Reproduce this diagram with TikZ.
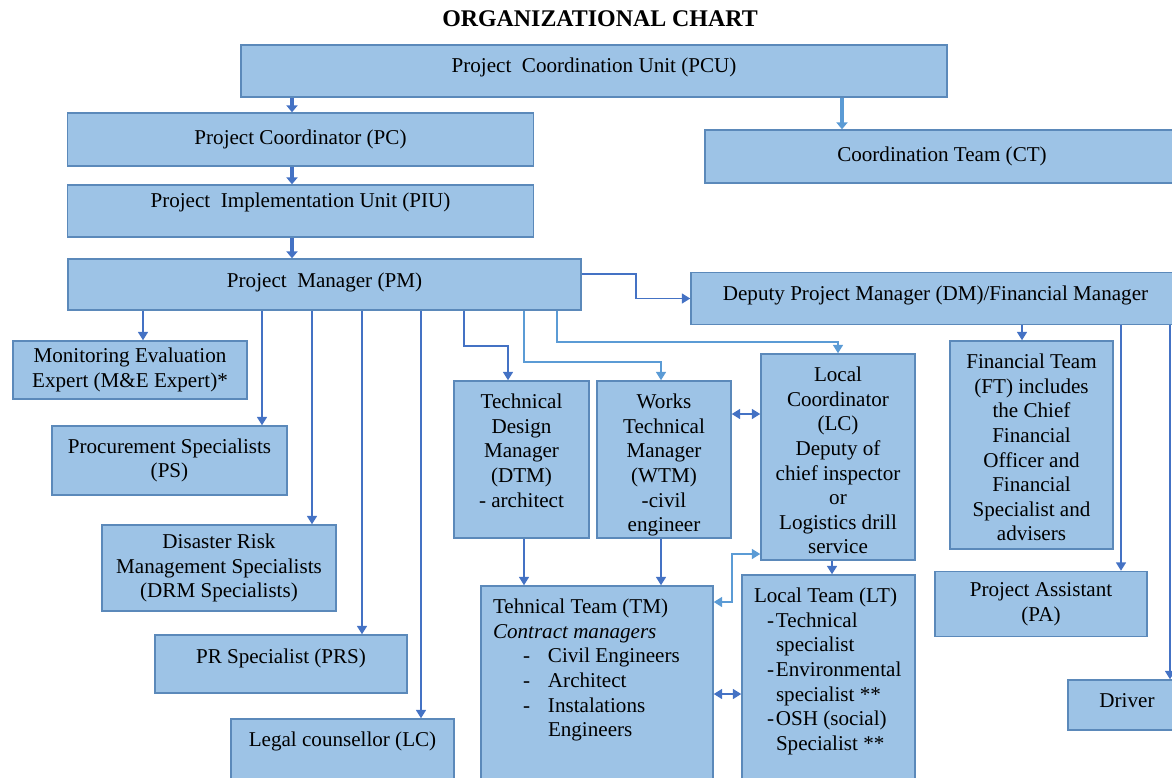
\documentclass[tikz,border=0pt]{standalone}
\usepackage{fontspec}
\setmainfont{Liberation Serif}
\usetikzlibrary{arrows.meta}

\newlength\pxu
\setlength\pxu{0.025cm}
\definecolor{boxfill}{HTML}{9DC3E6}
\definecolor{boxline}{HTML}{5B89BA}
\definecolor{arrdark}{HTML}{4472C4}
\definecolor{arrlight}{HTML}{5B9BD5}
\newcommand\toptext[3]{\parbox[c][#1\pxu][t]{#2\pxu}{\vspace*{13\pxu}\centering #3}}
\newcommand\topleft[3]{\parbox[c][#1\pxu][t]{#2\pxu}{\vspace*{13\pxu}\raggedright\leftskip=12\pxu #3}}

\tikzset{
  unit/.style={draw=boxline, fill=boxfill, line width=1pt, inner sep=0pt, align=center},
  sz/.style 2 args={minimum width=#1\pxu, minimum height=#2\pxu},
  lift/.style={text depth=#1\pxu},
  conn/.style={draw=arrdark, line width=1.4pt, -{Triangle[width=7pt,length=6pt]}},
  lconn/.style={conn, draw=arrlight},
  dbl/.style={draw=arrdark, line width=1.4pt, {Triangle[width=7pt,length=6pt]}-{Triangle[width=7pt,length=6pt]}},
  ldbl/.style={dbl, draw=arrlight},
  bigconn/.style={draw=arrdark, line width=2.8pt, -{Triangle[width=8pt,length=5pt]}}
}

\begin{document}
\begin{tikzpicture}[x=0.025cm, y=-0.025cm, font=\fontsize{15}{17.5}\selectfont]
\useasboundingbox (0,0) rectangle (1172,777);

\node (title) at (600,19) {\fontsize{17}{20}\selectfont\bfseries ORGANIZATIONAL CHART};

\node[unit, sz={706}{52}, lift=11] (pcu) at (594,71) {Project~ Coordination Unit (PCU)};
\node[unit, sz={466}{53}] (pc) at (300.5,139.5) {Project Coordinator (PC)};
\node[unit, sz={474}{53}] (ct) at (942,156.5) {Coordination Team (CT)};
\node[unit, sz={466}{52}, lift=21] (piu) at (300.5,211) {Project~ Implementation Unit (PIU)};
\node[unit, sz={513}{51}, lift=8] (pm) at (324.5,284.5) {Project~ Manager (PM)};
\node[unit, sz={489}{52}, lift=10] (dm) at (935.5,298.5) {Deputy Project Manager (DM)/Financial Manager};

\node[unit, sz={234}{58}] (me) at (130,370) {Monitoring Evaluation\\Expert (M\&E Expert)*};
\node[unit, sz={235}{69}] (ps) at (169.5,460.5) {Procurement Specialists\\(PS)};
\node[unit, sz={234}{86}] (drm) at (219,568) {Disaster Risk\\Management Specialists\\(DRM Specialists)};
\node[unit, sz={252}{58}, lift=15] (prs) at (281,664) {PR Specialist (PRS)};
\node[unit, sz={223}{82}] (legal) at (342.5,760) {\toptext{82}{223}{Legal counsellor (LC)}};

\node[unit, sz={135}{157}] (dtm) at (521.5,459.5) {\toptext{157}{135}{Technical\\Design\\Manager\\(DTM)\\- architect}};
\node[unit, sz={134}{157}] (wtm) at (664,459.5) {\toptext{157}{134}{Works\\Technical\\Manager\\(WTM)\\-civil\\engineer}};
\node[unit, sz={154}{206}] (lc) at (838,457) {\toptext{206}{154}{Local\\Coordinator\\(LC)\\Deputy of\\chief inspector\\or\\Logistics drill\\service}};
\node[unit, sz={163}{208}] (ft) at (1031.5,445) {\toptext{208}{163}{Financial Team\\(FT) includes\\the Chief\\Financial\\Officer and\\Financial\\Specialist and\\advisers}};

\node[unit, sz={232}{204}] (tm) at (597,688) {\topleft{204}{232}{Tehnical Team (TM)\\
  \textit{Contract managers}\\
  \hspace*{30\pxu}\makebox[25\pxu][l]{-}Civil Engineers\\
  \hspace*{30\pxu}\makebox[25\pxu][l]{-}Architect\\
  \hspace*{30\pxu}\makebox[25\pxu][l]{-}Instalations\\
  \hspace*{55\pxu}Engineers}};
\node[unit, sz={173}{215}] (lt) at (828.5,682.5) {\topleft{215}{173}{Local Team (LT)\\
  \hspace*{13\pxu}\makebox[9\pxu][l]{-}Technical\\
  \hspace*{22\pxu}specialist\\
  \hspace*{13\pxu}\makebox[9\pxu][l]{-}Environmental\\
  \hspace*{22\pxu}specialist **\\
  \hspace*{13\pxu}\makebox[9\pxu][l]{-}OSH (social)\\
  \hspace*{22\pxu}Specialist **}};
\node[unit, sz={212}{65}] (pa) at (1041,604) {Project Assistant\\(PA)};
\node[unit, sz={118}{50}, lift=9] (drv) at (1127,705) {Driver};

\coordinate (xpc) at (292,0);
\coordinate (xct) at (842,0);
\coordinate (xme) at (143,0);
\coordinate (xps) at (262,0);
\coordinate (xdrm) at (312,0);
\coordinate (xprs) at (362,0);
\coordinate (xlegal) at (421,0);
\coordinate (xdtm) at (524,0);
\coordinate (xwtm) at (661,0);
\coordinate (xlt) at (832,0);
\coordinate (xft) at (1022,0);
\coordinate (xpa) at (1121,0);
\coordinate (xdrv) at (1170,0);
\coordinate (e1) at (464,346);
\coordinate (e2) at (524,362);
\coordinate (e3) at (557,342);
\coordinate (e4) at (636,274);
\coordinate (e5) at (0,414);
\coordinate (e6) at (0,694);
\coordinate (e7) at (732,602);
\coordinate (e8) at (732,554);
\coordinate (k1) at (508,0);
\coordinate (k2) at (661,0);
\coordinate (k3) at (838,0);

\draw[bigconn] (pcu.south -| xpc) -- (pc.north -| xpc);
\draw[bigconn, draw=arrlight] (pcu.south -| xct) -- (ct.north -| xct);
\draw[bigconn] (pc.south -| xpc) -- (piu.north -| xpc);
\draw[bigconn] (piu.south -| xpc) -- (pm.north -| xpc);

\draw[conn] (pm.east |- e4) -- (e4) |- (dm.west);
\draw[conn] (pm.south -| xme) -- (me.north -| xme);
\draw[conn] (pm.south -| xps) -- (ps.north -| xps);
\draw[conn] (pm.south -| xdrm) -- (drm.north -| xdrm);
\draw[conn] (pm.south -| xprs) -- (prs.north -| xprs);
\draw[conn] (pm.south -| xlegal) -- (legal.north -| xlegal);
\draw[conn] (pm.south -| e1) -- (e1) -| (dtm.north -| k1);
\draw[lconn] (pm.south -| e2) -- (e2) -| (wtm.north -| k2);
\draw[lconn] (pm.south -| e3) -- (e3) -| (lc.north -| k3);

\draw[dbl] (wtm.east |- e5) -- (lc.west |- e5);
\draw[conn] (dtm.south -| xdtm) -- (tm.north -| xdtm);
\draw[conn] (wtm.south -| xwtm) -- (tm.north -| xwtm);
\draw[conn] (lc.south -| xlt) -- (lt.north -| xlt);
\draw[ldbl] (tm.east |- e7) -- (e7) -- (e8) -- (lc.west |- e8);
\draw[dbl] (tm.east |- e6) -- (lt.west |- e6);

\draw[conn] (dm.south -| xft) -- (ft.north -| xft);
\draw[conn] (dm.south -| xpa) -- (pa.north -| xpa);
\draw[conn] (dm.south -| xdrv) -- (drv.north -| xdrv);
\end{tikzpicture}
\end{document}
